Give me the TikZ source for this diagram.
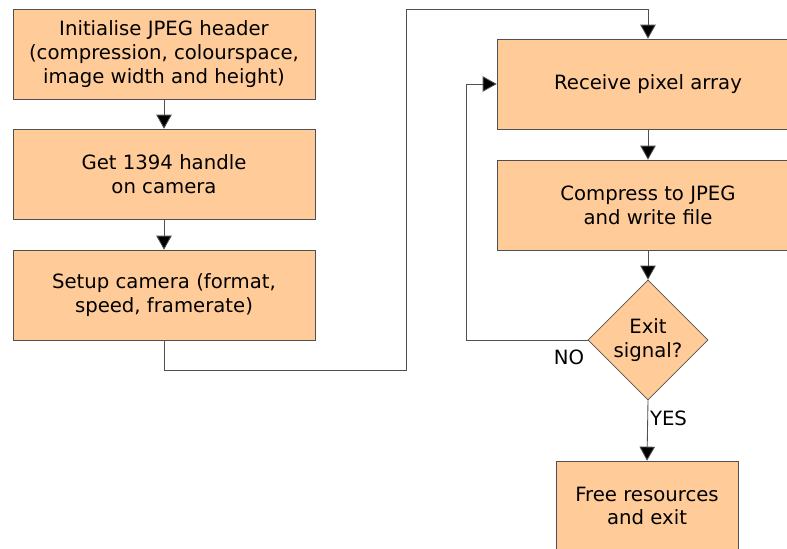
\documentclass[tikz,border=0pt]{standalone}
\usepackage{fontspec}
\setmainfont{DejaVu Sans}
\usetikzlibrary{positioning,arrows.meta,shapes.geometric}
\definecolor{peach}{RGB}{255,204,153}
\definecolor{edgegray}{RGB}{80,80,80}

\begin{document}
\begin{tikzpicture}[
  stepbox/.style={rectangle, draw=edgegray, fill=peach, minimum width=7.55cm, minimum height=2.25cm,
    align=center, font=\fontsize{14}{17}\selectfont},
  decision/.style={diamond, aspect=1, draw=edgegray, fill=peach, minimum width=3cm, minimum height=3cm,
    inner sep=0pt, align=center, font=\fontsize{14}{17}\selectfont},
  flow/.style={draw=edgegray, semithick, -{Triangle[length=10pt, width=11pt, fill=black]}},
  >=Triangle
]
  \useasboundingbox (0,0) rectangle (19.675,13.7);

  % Left column
  \node[stepbox] (init)  at (4.1,12.35) {Initialise JPEG header\\(compression, colourspace,\\image width and height)};
  \node[stepbox] (handle) at (4.1,9.35)  {Get 1394 handle\\on camera};
  \node[stepbox] (setup) at (4.1,6.325) {Setup camera (format,\\speed, framerate)};

  % Right column
  \node[stepbox] (recv)  at (16.2,11.6)  {Receive pixel array};
  \node[stepbox] (comp)  at (16.2,8.575) {Compress to JPEG\\and write file};
  \node[decision] (exit) at (16.2,5.2)   {Exit\\signal?};
  \node[stepbox, minimum width=4.55cm] (free) at (16.175,1.05) {Free resources\\and exit};

  % Turning points
  \coordinate (lowturn)  at (10.15,4.45);
  \coordinate (topturn)  at (10.15,13.475);
  \coordinate (loopturn) at (11.65,5.2);

  \draw[flow] (init) -- (handle);
  \draw[flow] (handle) -- (setup);
  \draw[flow] (setup.south) |- (lowturn) -- (topturn) -| (recv.north);
  \draw[flow] (recv) -- (comp);
  \draw[flow] (comp) -- (exit);
  \draw[flow] (exit.west) -- (loopturn) |- (recv.west);
  \draw[flow] (exit.south) -- node[pos=0.3, right=-2pt, font=\fontsize{14}{17}\selectfont] {YES} (free.north);

  % Loop label
  \node[font=\fontsize{14}{17}\selectfont] (nolabel) at (14.225,4.775) {NO};
\end{tikzpicture}
\end{document}
